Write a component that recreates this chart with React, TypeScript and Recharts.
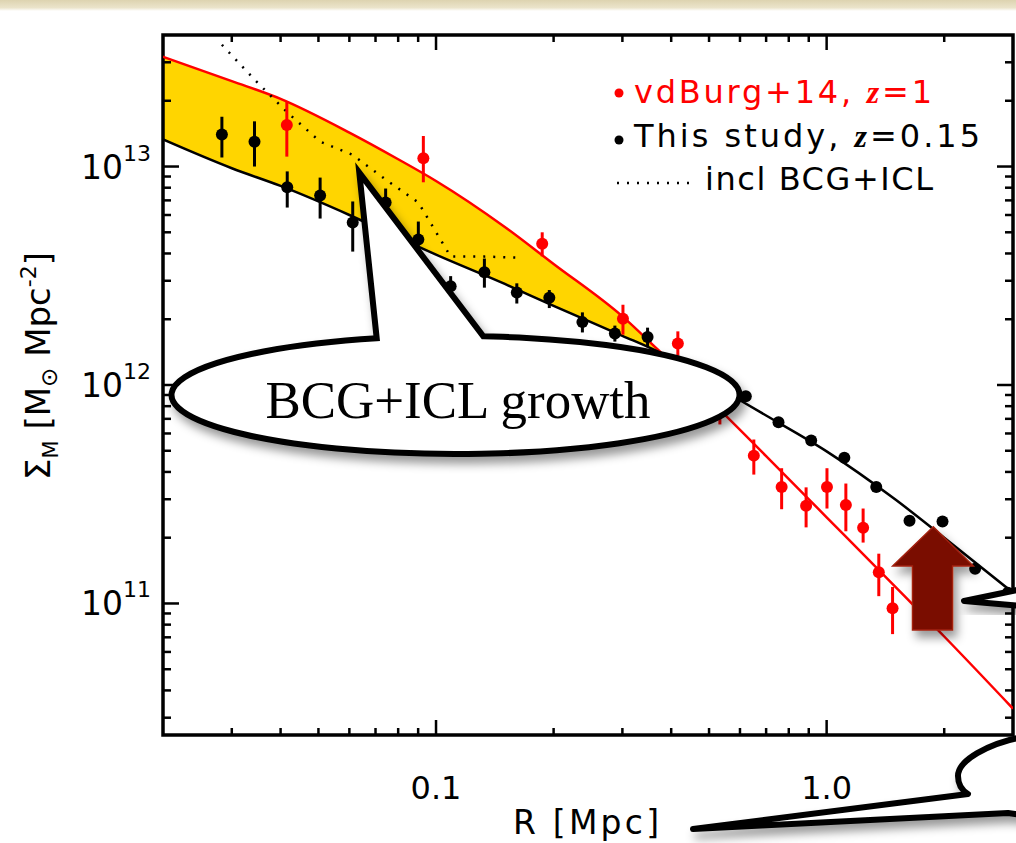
import { ComposedChart, XAxis, YAxis, Line, Area, Scatter, ErrorBar, ReferenceArea } from 'recharts';

const W = 1016;
const H = 843;
// plot frame in page pixels
const PLOT_LEFT = 163;
const PLOT_TOP = 35;
const PLOT_RIGHT = 1013;
const PLOT_BOTTOM = 735;

const xDomain = [0.02, 3];
const yDomain = [2.5e10, 4e13];
const xTicks = [0.03, 0.04, 0.05, 0.06, 0.07, 0.08, 0.09, 0.1, 0.2, 0.3, 0.4, 0.5, 0.6, 0.7, 0.8, 0.9, 1, 2];
const xMajor = [0.1, 1];
const xLabels = ['0.1', '1.0'];
const yTicks = [
  3e10, 4e10, 5e10, 6e10, 7e10, 8e10, 9e10,
  1e11, 2e11, 3e11, 4e11, 5e11, 6e11, 7e11, 8e11, 9e11,
  1e12, 2e12, 3e12, 4e12, 5e12, 6e12, 7e12, 8e12, 9e12,
  1e13, 2e13, 3e13,
];
const yMajor = [1e11, 1e12, 1e13];

// This study, z=0.15
const blackR = [0.0283, 0.0343, 0.0416, 0.0505, 0.0612, 0.0743, 0.0901, 0.109, 0.133, 0.161, 0.195, 0.237, 0.287, 0.348, 0.422, 0.512, 0.621, 0.753, 0.913, 1.11, 1.34, 1.63, 1.98, 2.40, 2.91];
const blackS = [1.40e13, 1.30e13, 8.04e12, 7.37e12, 5.55e12, 6.84e12, 4.63e12, 2.83e12, 3.28e12, 2.65e12, 2.51e12, 1.94e12, 1.72e12, 1.66e12, 1.22e12, 1.02e12, 8.89e11, 6.76e11, 5.57e11, 4.65e11, 3.41e11, 2.39e11, 2.37e11, 1.44e11, 1.12e11];
const blackLo = [1.10e13, 1.0e13, 6.49e12, 5.78e12, 4.08e12, 5.6e12, 3.75e12, 2.55e12, 2.79e12, 2.36e12, 2.25e12, 1.74e12, 1.58e12, 1.49e12, 1.12e12, 0.94e12, 8.89e11, 6.76e11, 5.57e11, 4.65e11, 3.41e11, 2.39e11, 2.37e11, 1.44e11, 1.12e11];
const blackHi = [1.69e13, 1.61e13, 9.5e12, 8.9e12, 6.92e12, 7.93e12, 5.6e12, 3.15e12, 3.79e12, 2.92e12, 2.72e12, 2.15e12, 1.87e12, 1.83e12, 1.33e12, 1.10e12, 8.89e11, 6.76e11, 5.57e11, 4.65e11, 3.41e11, 2.39e11, 2.37e11, 1.44e11, 1.12e11];

// vdBurg+14, z=1
const redR = [0.0415, 0.0928, 0.187, 0.301, 0.416, 0.533, 0.651, 0.767, 0.886, 1.002, 1.12, 1.24, 1.36, 1.475];
const redS = [1.55e13, 1.09e13, 4.43e12, 2.01e12, 1.55e12, 8.0e11, 4.75e11, 3.41e11, 2.80e11, 3.41e11, 2.82e11, 2.22e11, 1.39e11, 9.52e10];
const redLo = [1.11e13, 8.47e12, 3.88e12, 1.70e12, 1.36e12, 6.6e11, 3.89e11, 2.70e11, 2.23e11, 2.72e11, 2.14e11, 1.90e11, 1.08e11, 7.24e10];
const redHi = [1.99e13, 1.38e13, 5.0e12, 2.33e12, 1.76e12, 9.5e11, 5.63e11, 4.16e11, 3.40e11, 4.16e11, 3.54e11, 2.72e11, 1.69e11, 1.19e11];

// incl BCG+ICL (dotted)
const bcgR = [0.0283, 0.0343, 0.0416, 0.0505, 0.0612, 0.0743, 0.0901, 0.109, 0.133, 0.161];
const bcgS = [3.61e13, 2.50e13, 1.77e13, 1.30e13, 1.13e13, 8.72e12, 6.85e12, 3.87e12, 3.87e12, 3.83e12];

// model curves
const fitR = [0.02, 0.03, 0.04, 0.06, 0.08, 0.1, 0.15, 0.2, 0.3, 0.37, 0.5, 0.7, 1.0, 1.5, 2.0, 3.0];
const redFit = [3.18e13, 2.46e13, 2.04e13, 1.43e13, 1.08e13, 8.59e12, 5.29e12, 3.58e12, 2.06e12, 1.45e12, 8.62e11, 4.73e11, 2.48e11, 1.19e11, 7.06e10, 3.30e10];
const blackFit = [1.33e13, 9.82e12, 8.15e12, 6.0e12, 4.73e12, 3.95e12, 2.90e12, 2.30e12, 1.68e12, 1.42e12, 1.03e12, 7.25e11, 4.97e11, 2.99e11, 2.0e11, 1.12e11];

const points = (rs: number[], ss: number[], lo: number[], hi: number[]) =>
  rs.map((r, i) => ({ r, s: ss[i], err: [ss[i] - lo[i], hi[i] - ss[i]] }));
const curve = (rs: number[], ss: number[]) => rs.map((r, i) => ({ r, s: ss[i] }));

const blackData = points(blackR, blackS, blackLo, blackHi);
const redData = points(redR, redS, redLo, redHi);
const bcgData = curve(bcgR, bcgS);
const redFitData = curve(fitR, redFit);
const blackFitData = curve(fitR, blackFit);
const bandData = fitR
  .map((r, i) => ({ r, band: [blackFit[i], redFit[i]] }))
  .filter((d) => d.band[1] >= d.band[0]);

const SANS = "'DejaVu Sans', 'Liberation Sans', sans-serif";
const SERIF = "'Liberation Serif', 'Times New Roman', serif";

function XTick(props: any) {
  const { x, y, payload } = props;
  const idx = xMajor.indexOf(payload.value);
  const len = idx >= 0 ? 15 : 7;
  return (
    <g>
      <line x1={x} x2={x} y1={y} y2={y - len} stroke="#000" strokeWidth={2.5} />
      <line x1={x} x2={x} y1={PLOT_TOP} y2={PLOT_TOP + len} stroke="#000" strokeWidth={2.5} />
      {idx >= 0 ? (
        <text x={x} y={y + 64} textAnchor="middle" fontFamily={SANS} fontSize={32} fill="#000">{xLabels[idx]}</text>
      ) : null}
    </g>
  );
}

function YTick(props: any) {
  const { x, y, payload } = props;
  const major = yMajor.includes(payload.value);
  const len = major ? 16 : 8;
  return (
    <g>
      <line x1={x} x2={x + len} y1={y} y2={y} stroke="#000" strokeWidth={2.5} />
      <line x1={PLOT_RIGHT} x2={PLOT_RIGHT - len} y1={y} y2={y} stroke="#000" strokeWidth={2.5} />
      {major ? (
        <text x={x - 12} y={y + 12} textAnchor="end" fontFamily={SANS} fontSize={33} fill="#000">
          10<tspan dy={-18} fontSize={22}>{Math.round(Math.log10(payload.value))}</tspan>
        </text>
      ) : null}
    </g>
  );
}

const dot = (color: string) => (p: any) => <circle cx={p.cx} cy={p.cy} r={6} fill={color} />;

function Overlay() {
  const ecx = 455.5, ecy = 395, erx = 284, ery = 59;
  const yOn = (x: number) => ecy - ery * Math.sqrt(1 - ((x - ecx) / erx) ** 2);
  const bl = 376.7, br = 483.3;
  const bubble = `M ${bl} ${yOn(bl)} A ${erx} ${ery} 0 1 0 ${br} ${yOn(br)} L 359.3 172.7 Z`;
  return (
    <svg width={W} height={H} style={{ position: 'absolute', left: 0, top: 0, pointerEvents: 'none' }}>
      <defs>
        <filter id="shadow" x="-20%" y="-30%" width="140%" height="180%">
          <feDropShadow dx="4" dy="7" stdDeviation="5" floodColor="#000" floodOpacity="0.4" />
        </filter>
      </defs>

      {/* y axis title */}
      <text transform="translate(50 366) rotate(-90)" textAnchor="middle" fontFamily={SANS} fontSize={34} fill="#000">
        Σ<tspan dy={8} fontSize={21}>M</tspan>
        <tspan dy={-8}> [M</tspan>
        <tspan dy={7} fontSize={23}>⊙</tspan>
        <tspan dy={-7}> Mpc</tspan>
        <tspan dy={-14} fontSize={22}>-2</tspan>
        <tspan dy={14}>]</tspan>
      </text>
      <text x={586} y={834} textAnchor="middle" fontFamily={SANS} fontSize={33} fill="#000" textLength={146} lengthAdjust="spacing">R [Mpc]</text>

      {/* legend */}
      <circle cx={619} cy={93} r={4.5} fill="#ff0000" />
      <text x={634} y={103} fontFamily={SANS} fontSize={32} fill="#ff0000" textLength={298} lengthAdjust="spacing">
        vdBurg+14, <tspan fontFamily={SERIF} fontStyle="italic" fontWeight="bold">z</tspan>=1
      </text>
      <circle cx={619} cy={140} r={4.5} fill="#000" />
      <text x={634} y={147} fontFamily={SANS} fontSize={32} fill="#000" textLength={346} lengthAdjust="spacing">
        This study, <tspan fontFamily={SERIF} fontStyle="italic" fontWeight="bold">z</tspan>=0.15
      </text>
      <line x1={617} x2={692} y1={183} y2={183} stroke="#000" strokeWidth={2.5} strokeDasharray="2 8" />
      <text x={705} y={190} fontFamily={SANS} fontSize={32} fill="#000" textLength={228} lengthAdjust="spacing">incl BCG+ICL</text>

      {/* speech bubble */}
      <path d={bubble} fill="#fff" stroke="#000" strokeWidth={6} strokeLinejoin="miter" filter="url(#shadow)" />
      <text x={458} y={418} textAnchor="middle" fontFamily={SERIF} fontSize={53} fill="#000" textLength={385} lengthAdjust="spacingAndGlyphs">
        BCG+ICL growth
      </text>

      {/* arrow */}
      <path d="M 933.3 526.7 L 973.3 566 L 952.5 566 L 952.5 630 L 912.5 630 L 912.5 566 L 892.7 566 Z"
        fill="#7a0d02" stroke="#a3200f" strokeWidth={1.5} filter="url(#shadow)" />

      {/* other bubbles cut at the edge */}
      <path d="M 1022 589 L 964 601 L 1022 606" fill="#fff" stroke="#000" strokeWidth={6} strokeLinejoin="round" filter="url(#shadow)" />
      <path d="M 1022 737 C 988 744 958 760 958 776 C 958 786 963 791 968 794 L 693 829 L 1008 813 L 1022 815"
        fill="#fff" stroke="#000" strokeWidth={6} strokeLinejoin="round" filter="url(#shadow)" />
    </svg>
  );
}

export default function App() {
  return (
    <div style={{ position: 'absolute', left: 0, top: 0, width: W, height: H, background: '#fff', overflow: 'hidden' }}>
      <div style={{ position: 'absolute', left: 0, top: 0, width: W, height: 11, background: 'linear-gradient(#ddd3b0, #ebe4cb 70%, #fff)' }} />
      <ComposedChart
        width={W}
        height={H}
        margin={{ top: PLOT_TOP, right: W - PLOT_RIGHT, left: PLOT_LEFT - 100, bottom: H - PLOT_BOTTOM - 60 }}
      >
        <XAxis dataKey="r" type="number" scale="log" domain={xDomain} allowDataOverflow ticks={xTicks}
          interval={0} height={60} tickSize={0} tickMargin={0} axisLine={false} tick={<XTick />} />
        <YAxis type="number" scale="log" domain={yDomain} allowDataOverflow ticks={yTicks}
          interval={0} width={100} tickSize={0} tickMargin={0} axisLine={false} tick={<YTick />} />
        <Area data={bandData} dataKey="band" type="monotone" fill="#ffd500" fillOpacity={1} stroke="none" isAnimationActive={false} />
        <Line data={redFitData} dataKey="s" type="monotone" stroke="#ff0000" strokeWidth={2.5} dot={false} isAnimationActive={false} />
        <Line data={blackFitData} dataKey="s" type="monotone" stroke="#000" strokeWidth={2.5} dot={false} isAnimationActive={false} />
        <Line data={bcgData} dataKey="s" type="linear" stroke="#000" strokeWidth={2.5} strokeDasharray="2 8" dot={false} isAnimationActive={false} />
        <Scatter data={redData} dataKey="s" shape={dot('#ff0000')} isAnimationActive={false}>
          <ErrorBar dataKey="err" direction="y" width={0} stroke="#ff0000" strokeWidth={3} />
        </Scatter>
        <Scatter data={blackData} dataKey="s" shape={dot('#000')} isAnimationActive={false}>
          <ErrorBar dataKey="err" direction="y" width={0} stroke="#000" strokeWidth={3} />
        </Scatter>
        <ReferenceArea x1={xDomain[0]} x2={xDomain[1]} y1={yDomain[0]} y2={yDomain[1]} fill="none" stroke="#000" strokeWidth={3.5} fillOpacity={0} />
      </ComposedChart>
      <Overlay />
    </div>
  );
}
